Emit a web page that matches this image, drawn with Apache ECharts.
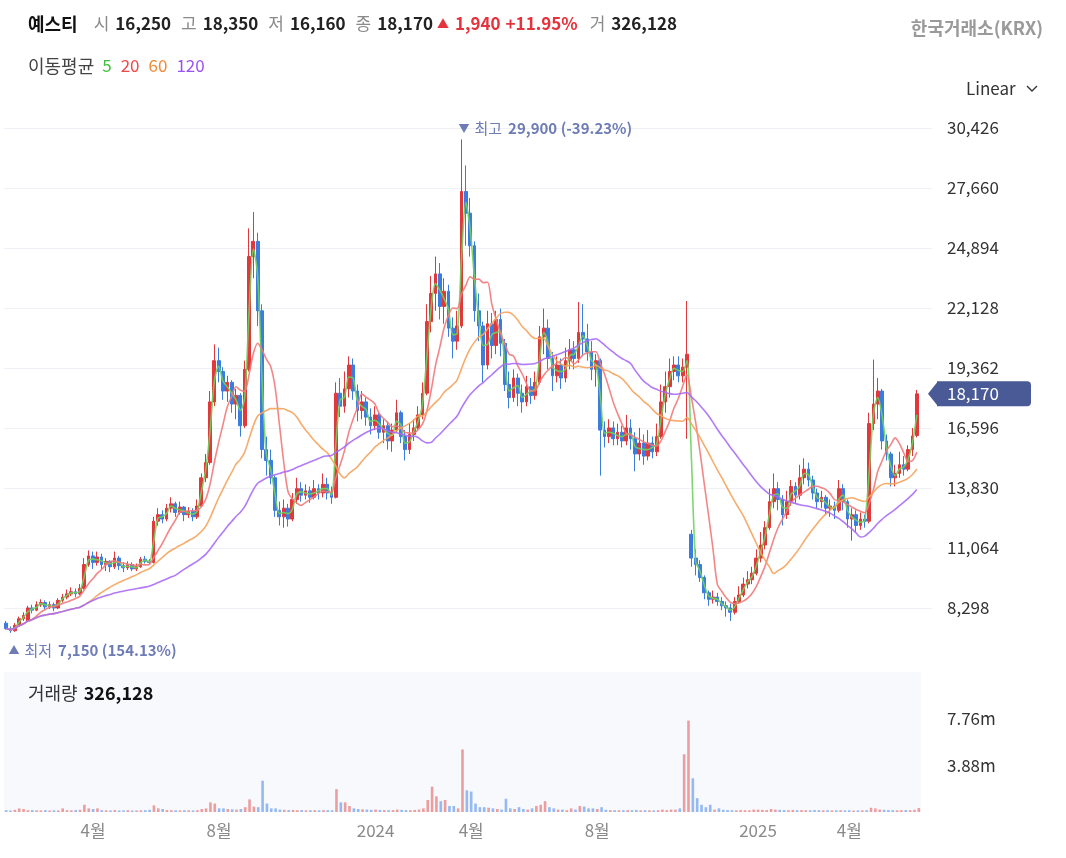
<!DOCTYPE html>
<html>
<head>
<meta charset="utf-8">
<title>예스티</title>
<script src="https://cdn.jsdelivr.net/npm/echarts@6.0.0/dist/echarts.min.js"></script>
<style>
  html, body { margin: 0; padding: 0; background: #fff; }
  #chart { width: 1066px; height: 858px; }
</style>
</head>
<body>
<div id="chart"></div>
<script>
// 예스티 일봉 차트 (3거래일 단위 봉), 2023-01 ~ 2025-06
const startDay = '2023-01-09';
const daysPerBar = 3;

const opens = [
  7600,7350,7250,7500,7800,7700,8300,8200,8450,8550,
  8350,8450,8300,8650,8800,8950,9050,8950,9200,10300,
  10700,10400,10650,10300,10450,10200,10600,10250,10150,10300,
  10100,10200,10550,10450,10400,12300,12600,12400,12900,13100,
  12700,12950,12600,12750,12500,13000,14300,15000,17800,19700,
  19200,18300,18700,17700,18100,16700,19300,24500,25200,22000,
  15600,15100,14300,12800,12500,12900,12400,13300,13800,13500,
  13700,13400,13800,13600,14000,13600,13400,18200,17600,18400,
  19500,18300,17400,17800,17100,16700,17200,16400,16700,16000,
  16500,17300,16200,15600,16300,16600,17200,18200,21500,22800,
  23700,22200,22900,21200,20600,21300,27500,26500,25000,22000,
  21300,19500,21400,20400,21600,20500,18600,18000,18900,18200,
  17800,18500,18100,18700,20800,21200,19800,19000,19500,18900,
  19700,20200,19800,21000,20700,20100,19300,19700,16500,16200,
  16600,16100,16400,16000,16600,16100,15400,15900,15300,15900,
  15500,16200,17800,18500,19200,19500,19000,19400,11700,10600,
  10300,9700,9000,8700,8800,8600,8400,8300,8100,8600,
  8900,9400,9600,9900,10600,11200,12000,13200,13800,13300,
  12600,13200,13900,13500,14300,14700,14200,13600,13200,13400,
  12900,13000,12800,13800,13200,12400,12600,12100,12400,12300,
  16800,17700,18300,16000,15400,14300,14500,14900,14700,15600,
  16250
];
const closes = [
  7350,7250,7500,7800,7950,8300,8200,8450,8550,8350,
  8450,8300,8650,8800,8950,9050,8950,9200,10300,10700,
  10400,10650,10300,10450,10200,10600,10250,10150,10300,10100,
  10200,10550,10450,10400,12300,12600,12400,12900,13100,12700,
  12950,12600,12750,12500,13000,14300,15000,17800,19700,19200,
  18300,18700,17700,18100,16700,19300,24500,25200,22000,15600,
  15100,14300,12800,12500,12900,12400,13300,13800,13500,13700,
  13400,13800,13600,14000,13600,13400,18200,17600,18400,19500,
  18300,17400,17800,17100,16700,17200,16400,16700,16000,16500,
  17300,16200,15600,16300,16600,17200,18200,21500,22800,23700,
  22200,22900,21200,20600,21300,27500,26500,25000,22000,21300,
  19500,21400,20400,21600,20500,18600,18000,18900,18200,17800,
  18500,18100,18700,20800,21200,19800,19000,19500,18900,19700,
  20200,19800,21000,20700,20100,19300,19700,16500,16200,16600,
  16100,16400,16000,16600,16100,15400,15900,15300,15900,15500,
  16200,17800,18500,19200,19500,19000,19400,20000,10600,10300,
  9700,9000,8700,8800,8600,8400,8300,8100,8600,8900,
  9400,9600,9900,10600,11200,12000,13200,13800,13300,12600,
  13200,13900,13500,14300,14700,14200,13600,13200,13400,12900,
  13000,12800,13800,13200,12400,12600,12100,12400,12300,16800,
  17700,18300,16000,15400,14300,14500,14900,14700,15600,16230,
  18170
];
const lows = [
  7300,7150,7200,7450,7700,7650,8050,8150,8350,8250,
  8250,8150,8250,8550,8700,8850,8800,8900,9150,10200,
  10100,10250,10100,10000,9950,10100,10050,9950,10050,10000,
  10000,10150,10350,10300,10350,12100,12200,12300,12700,12500,
  12600,12300,12450,12300,12400,12950,14100,14900,17600,18700,
  17900,17800,17300,17000,16200,16600,19200,23500,21300,15200,
  14400,14000,12500,12100,12000,12050,12300,13100,13200,13300,
  13150,13300,13300,13400,13300,13100,13350,17100,17300,18000,
  17900,16900,17000,16700,16300,16500,16100,15900,15600,15500,
  16400,15900,15100,15400,16000,16500,17000,18100,21000,22000,
  21600,21400,20800,19800,20200,21200,25000,24500,21500,20600,
  18700,19300,19800,20000,19900,18300,17500,17800,17600,17300,
  17600,17700,17900,18600,20000,19300,18300,18700,18400,18700,
  19300,19300,19600,19900,19700,18800,18500,14400,15700,15900,
  15800,15800,15700,15800,15600,14600,15100,14900,15100,15200,
  15300,16100,17300,18000,18800,18700,18700,16100,10200,9800,
  9500,8700,8400,8500,8400,8200,7900,7700,8000,8500,
  8800,9200,9400,9800,10400,11000,11900,12900,12800,12100,
  12400,13000,13100,13300,14000,13900,13300,12900,12900,12600,
  12500,12400,12700,12800,12000,11400,11800,11900,12000,12200,
  16500,17000,15600,15100,13900,13900,14300,14400,14600,15300,
  16160
];
const highs = [
  7700,7450,7600,7900,8100,8400,8450,8600,8700,8650,
  8600,8550,8750,8950,9150,9250,9200,9400,10600,10950,
  10900,10900,10800,10600,10500,10900,10700,10400,10450,10400,
  10350,10650,10700,10550,12500,12900,12800,13100,13400,13200,
  13200,13000,12950,12900,13300,14500,15400,18300,20450,20300,
  19400,19000,18800,18400,18200,19700,25800,26550,25600,22300,
  16200,15600,14400,13200,13300,13100,13600,14300,14100,14000,
  13900,14200,14000,14500,14300,13900,18700,18900,19200,19900,
  19800,18600,18300,18000,17500,17600,17300,17000,16900,16800,
  17900,17400,16500,16800,17000,17600,18700,22300,23600,24500,
  24200,23500,23200,21700,22000,29900,28700,27200,25200,22800,
  21500,22000,21900,22000,22100,20700,19200,19300,19100,18600,
  19000,18900,19200,21300,22100,21600,20100,19900,19800,20300,
  20700,20600,22400,22300,21400,20600,20000,19800,16900,17000,
  16900,16800,16700,17200,17000,16400,16600,16300,16500,16200,
  16800,18600,19200,19800,19900,19900,19800,22450,11900,11000,
  10500,9800,9100,9100,9000,8800,8600,8500,8800,9300,
  9700,10000,10200,11000,11800,12300,13800,14500,14100,13500,
  13700,14200,14100,14900,15200,15000,14400,13800,13700,13500,
  13300,13200,14200,14000,13300,12900,12800,12700,12600,17300,
  19750,18900,18400,16300,15500,14900,15500,15300,15800,16600,
  18350
];
// 거래량 (천 주)
const volumeK = [
  150,120,180,300,250,150,160,140,130,150,
  120,140,130,300,150,140,160,180,600,300,
  250,300,150,140,130,160,120,130,150,120,
  130,140,150,180,550,300,250,160,150,140,
  130,150,140,130,150,250,300,800,700,300,
  300,250,220,200,250,400,1050,450,400,2600,
  700,300,300,200,180,160,170,150,160,140,
  150,150,140,160,150,140,1900,800,800,500,
  300,250,220,200,180,200,170,160,150,160,
  200,180,160,150,170,200,300,1000,2100,1300,
  900,1000,500,500,300,5200,1800,1700,700,400,
  400,350,300,250,200,1100,300,250,400,250,
  200,300,500,600,900,400,300,200,200,150,
  300,200,500,450,300,300,250,400,180,160,
  150,140,150,160,150,170,140,150,140,130,
  150,200,150,200,200,300,4800,7600,2800,1150,
  600,400,600,200,300,180,160,150,140,160,
  150,140,200,200,180,160,250,200,180,160,
  150,170,150,160,150,140,160,150,140,150,
  130,140,150,130,140,120,130,140,150,350,
  300,200,180,160,150,140,150,160,150,180,
  326.128
];

const maDays = [5, 20, 60, 120];
const maBars = [2, 7, 20, 40];           // 이동평균 기간을 봉 개수로 환산
const maColors = ['#6fd35f', '#f27a7a', '#f5a35c', '#a86cf6'];
const maLegendColors = ['#3fbf3a', '#f04848', '#f08a36', '#9b52f5'];
const volTicks = [3880000, 7760000];

const upColor = '#e2383b';
const downColor = '#3a7ce0';
const noteColor = '#6e7cb5';
const fontFamily = "'Noto Sans CJK KR', 'Noto Sans', sans-serif";

// 거래일 날짜 (주말 제외)
function buildDates(n) {
  const out = [];
  const d = new Date(startDay + 'T00:00:00Z');
  let k = 0;
  while (out.length < n) {
    const wd = d.getUTCDay();
    if (wd !== 0 && wd !== 6) {
      if (k % daysPerBar === 0) out.push(d.toISOString().slice(0, 10));
      k++;
    }
    d.setUTCDate(d.getUTCDate() + 1);
  }
  return out;
}

function movingAvg(win) {
  return closes.map((_, i) => {
    const s = Math.max(0, i - win + 1);
    let t = 0;
    for (let k = s; k <= i; k++) t += closes[k];
    return Math.round(t / (i - s + 1));
  });
}

const dates = buildDates(closes.length);
const volumes = volumeK.map(v => Math.round(v * 1000));
const candles = closes.map((c, i) => [opens[i], c, lows[i], highs[i]]);
const labelAt = dates.map((s, i) => {
  if (i === 0) return false;
  const m = +s.slice(5, 7);
  return m !== +dates[i - 1].slice(5, 7) && [1, 4, 8].includes(m);
});

const last = closes.length - 1;
const fmt = v => v.toLocaleString('en-US');
const maxHigh = Math.max(...highs);
const minLow = Math.min(...lows);
const iMax = highs.indexOf(maxHigh);
const iMin = lows.indexOf(minLow);
const pctHigh = ((closes[last] - maxHigh) / maxHigh * 100).toFixed(2);
const pctLow = ((closes[last] - minLow) / minLow * 100).toFixed(2);
const change = closes[last] - closes[last - 1];
const changePct = (change / closes[last - 1] * 100).toFixed(2);

const chart = echarts.init(document.getElementById('chart'));

const noteRich = {
  t: { fontSize: 11, fill: noteColor, color: noteColor, fontFamily, padding: [0, 5, 0, 0] },
  a: { fontSize: 15, fill: noteColor, color: noteColor, fontFamily, padding: [0, 6, 0, 0] },
  b: { fontSize: 15, fontWeight: 'bold', fill: noteColor, color: noteColor, fontFamily }
};

function headerGraphics(pos) {
  const g = [
    {
      type: 'text', id: 'head', x: 28, y: 24, silent: true,
      style: {
        text: `{n|예스티}{l|시}{v|${fmt(opens[last])}}{l|고}{v|${fmt(highs[last])}}{l|저}{v|${fmt(lows[last])}}{l|종}{w|${fmt(closes[last])}}{t|▲}{r|${fmt(change)}}{q|+${changePct}%}{l|거}{v|${fmt(volumes[last])}}`,
        verticalAlign: 'middle', textVerticalAlign: 'middle',
        rich: {
          n: { fontSize: 18, fontWeight: 'bold', fontFamily, fill: '#111', color: '#111', padding: [0, 16, 0, 0] },
          l: { fontSize: 17, fontFamily, fill: '#8a8a8a', color: '#8a8a8a', padding: [0, 6, 0, 0] },
          v: { fontSize: 17, fontWeight: 'bold', fontFamily, fill: '#222', color: '#222', padding: [0, 10, 0, 0] },
          w: { fontSize: 17, fontWeight: 'bold', fontFamily, fill: '#222', color: '#222', padding: [0, 4, 0, 0] },
          t: { fontSize: 12, fontFamily, fill: '#e5323c', color: '#e5323c', padding: [0, 6, 0, 0] },
          r: { fontSize: 17, fontWeight: 'bold', fontFamily, fill: '#e5323c', color: '#e5323c', padding: [0, 5, 0, 0] },
          q: { fontSize: 17, fontWeight: 'bold', fontFamily, fill: '#e5323c', color: '#e5323c', padding: [0, 12, 0, 0] }
        }
      }
    },
    {
      type: 'text', id: 'ma', x: 28, y: 66, silent: true,
      style: {
        text: '{l|이동평균}' + maDays.map((d, i) => `{m${i}|${d}}`).join(''),
        verticalAlign: 'middle', textVerticalAlign: 'middle',
        rich: Object.assign(
          { l: { fontSize: 18, fontFamily, fill: '#444', color: '#444', padding: [0, 8, 0, 0] } },
          ...maDays.map((d, i) => ({ ['m' + i]: { fontSize: 17, fontFamily, fill: maLegendColors[i], color: maLegendColors[i], padding: [0, 9, 0, 0] } }))
        )
      }
    },
    {
      type: 'text', id: 'krx', x: 1043, y: 28, silent: true,
      style: { text: '한국거래소(KRX)', font: 'bold 18px ' + fontFamily, fill: '#9a9a9a',
        align: 'right', textAlign: 'right', verticalAlign: 'middle', textVerticalAlign: 'middle' }
    },
    {
      type: 'text', id: 'linear', x: 966, y: 89, silent: true,
      style: { text: 'Linear', font: '17px ' + fontFamily, fill: '#333',
        verticalAlign: 'middle', textVerticalAlign: 'middle' }
    },
    {
      type: 'polyline', id: 'chev', silent: true,
      shape: { points: [[1027, 86], [1032, 91], [1037, 86]] },
      style: { stroke: '#333', lineWidth: 1.4, fill: null }
    },
    {
      type: 'text', id: 'vol', x: 28, y: 693, silent: true, z: 100,
      style: {
        text: `{l|거래량}{v|${fmt(volumes[last])}}`,
        verticalAlign: 'middle', textVerticalAlign: 'middle',
        rich: {
          l: { fontSize: 18, fontFamily, fill: '#333', color: '#333', padding: [0, 6, 0, 0] },
          v: { fontSize: 18, fontWeight: 'bold', fontFamily, fill: '#111', color: '#111' }
        }
      }
    }
  ];
  if (pos) {
    const fy = pos.flagY;
    g.push(
      {
        type: 'polygon', id: 'flagTip', silent: true, z: 100,
        shape: { points: [[928, fy], [938, fy - 12.5], [938, fy + 12.5]] },
        style: { fill: '#4a5a97' }
      },
      {
        type: 'rect', id: 'flagBox', silent: true, z: 100,
        shape: { x: 937, y: fy - 12.5, width: 94, height: 25, r: [0, 4, 4, 0] },
        style: { fill: '#4a5a97' }
      },
      {
        type: 'text', id: 'flagText', x: 947, y: fy, silent: true, z: 101,
        style: { text: fmt(closes[last]), font: '17px ' + fontFamily, fill: '#fff',
          verticalAlign: 'middle', textVerticalAlign: 'middle' }
      },
      {
        type: 'text', id: 'noteHigh', x: pos.high[0] - 3, y: pos.high[1] - 11, silent: true, z: 100,
        style: {
          text: `{t|▼}{a|최고}{b|${fmt(maxHigh)} (${pctHigh}%)}`, rich: noteRich,
          verticalAlign: 'middle', textVerticalAlign: 'middle'
        }
      },
      {
        type: 'text', id: 'noteLow', x: pos.low[0] - 2, y: pos.low[1] + 17, silent: true, z: 100,
        style: {
          text: `{t|▲}{a|최저}{b|${fmt(minLow)} (${pctLow}%)}`, rich: noteRich,
          verticalAlign: 'middle', textVerticalAlign: 'middle'
        }
      }
    );
  }
  return g;
}

const option = {
  animation: false,
  backgroundColor: '#fff',
  textStyle: { fontFamily },
  grid: [
    { left: 4, right: 134, top: 128, bottom: 250 },
    { left: 4, right: 145, top: 672, bottom: 46, show: true, backgroundColor: '#f7f9fd', borderWidth: 0 }
  ],
  xAxis: [
    {
      type: 'category', gridIndex: 0, data: dates, max: dates.length + 2,
      show: false, boundaryGap: true
    },
    {
      type: 'category', gridIndex: 1, data: dates, boundaryGap: true,
      axisLine: { show: false }, axisTick: { show: false },
      axisLabel: {
        color: '#8a8a8a', fontSize: 17, fontFamily, margin: 10,
        interval: i => labelAt[i],
        formatter: v => { const m = +v.slice(5, 7); return m === 1 ? v.slice(0, 4) : m + '월'; }
      }
    }
  ],
  yAxis: [
    {
      type: 'value', gridIndex: 0, position: 'right',
      min: 8298, max: 30426, interval: 2766,
      axisLine: { show: false }, axisTick: { show: false },
      axisLabel: { color: '#333', fontSize: 17, fontFamily, margin: 15, formatter: v => fmt(v) },
      splitLine: { lineStyle: { color: '#eef0f5', width: 1 } }
    },
    {
      type: 'value', gridIndex: 1, position: 'right',
      min: 0, max: 11640000, interval: 3880000,
      axisLine: { show: false }, axisTick: { show: false },
      axisLabel: {
        color: '#333', fontSize: 17, fontFamily, margin: 26,
        formatter: v => volTicks.includes(v) ? (v / 1e6).toFixed(2) + 'm' : ''
      },
      splitLine: { show: false }
    }
  ],
  series: [
    {
      type: 'candlestick', xAxisIndex: 0, yAxisIndex: 0, data: candles,
      barWidth: '75%', clip: false,
      itemStyle: { color: upColor, color0: downColor, borderColor: upColor, borderColor0: downColor, borderWidth: 1 }
    },
    ...maBars.map((w, i) => ({
      type: 'line', xAxisIndex: 0, yAxisIndex: 0, data: movingAvg(w),
      name: 'MA' + maDays[i], symbol: 'none', smooth: 0.3, silent: true, clip: false,
      lineStyle: { color: maColors[i], width: 1.6, opacity: 0.9 },
      z: 3
    })),
    {
      type: 'bar', xAxisIndex: 1, yAxisIndex: 1, barWidth: '60%',
      data: volumes.map((v, i) => ({
        value: v,
        itemStyle: { color: closes[i] >= opens[i] ? 'rgba(229,96,96,0.6)' : 'rgba(82,142,236,0.6)' }
      }))
    }
  ],
  graphic: headerGraphics(null)
};

chart.setOption(option);
const pos = {
  flagY: chart.convertToPixel({ yAxisIndex: 0 }, closes[last]),
  high: chart.convertToPixel({ gridIndex: 0 }, [iMax, maxHigh]),
  low: chart.convertToPixel({ gridIndex: 0 }, [iMin, minLow])
};
chart.setOption({ graphic: headerGraphics(pos) });
</script>
</body>
</html>
